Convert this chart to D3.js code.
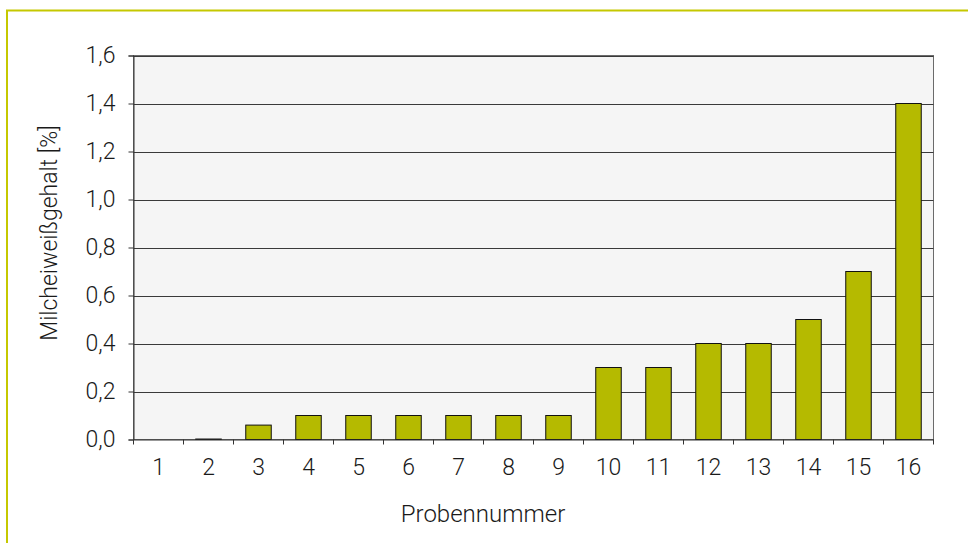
<!DOCTYPE html>
<head>
  <meta charset="utf-8" />
  <script src="https://d3js.org/d3.v7.min.js"></script>
  <style>
    body { margin: 0; background: white; }
    text { font-family: Roboto, "Liberation Sans", sans-serif; font-weight: 300; fill: #1a1a1a; }
  </style>
</head>
<body>
  <script>
    var width = 968, height = 543;

    // Daten
    var proben = ["1", "2", "3", "4", "5", "6", "7", "8", "9", "10", "11", "12", "13", "14", "15", "16"];
    var werte = [0, 0.002, 0.06, 0.1, 0.1, 0.1, 0.1, 0.1, 0.1, 0.3, 0.3, 0.4, 0.4, 0.5, 0.7, 1.4];
    var yTicks = [0, 0.2, 0.4, 0.6, 0.8, 1.0, 1.2, 1.4, 1.6];

    var pLeft = 133.5, pRight = 933.5, pTop = 55.5, pBottom = 439.5;

    var svg = d3.select("body").append("svg")
      .attr("width", width).attr("height", height);

    // Rahmen
    svg.append("path")
      .attr("d", "M7,560V10.5H980")
      .attr("fill", "none")
      .attr("stroke", "#c5c800")
      .attr("stroke-width", 2);

    var x = d3.scaleBand().domain(proben).range([pLeft, pRight]).padding(0);
    var y = d3.scaleLinear().domain([0, 1.6]).range([pBottom, pTop]);

    svg.append("rect")
      .attr("x", pLeft).attr("y", pTop)
      .attr("width", pRight - pLeft).attr("height", pBottom - pTop)
      .attr("fill", "#f5f5f5")
      .attr("stroke", "#6b6b6b");

    // Gitterlinien
    svg.append("g").selectAll("line").data(yTicks.slice(1)).join("line")
      .attr("x1", pLeft).attr("x2", pRight)
      .attr("y1", d => Math.round(y(d)) + 0.5).attr("y2", d => Math.round(y(d)) + 0.5)
      .attr("stroke", "#3a3a3a");

    // Balken
    var bw = x.bandwidth() * 0.51;
    svg.append("g").selectAll("rect").data(werte).join("rect")
      .attr("x", (d, i) => x(proben[i]) + (x.bandwidth() - bw) / 2)
      .attr("y", d => y(d))
      .attr("width", bw)
      .attr("height", d => pBottom - y(d))
      .attr("fill", "#b5ba00")
      .attr("stroke", d => d > 0 ? "#111" : "none")
      .attr("stroke-width", 1);

    // y-Achse
    var yAxis = d3.axisLeft(y).tickValues(yTicks).tickSize(5).tickPadding(13)
      .tickFormat(d => d3.format(".1f")(d).replace(".", ","));
    var gy = svg.append("g").attr("transform", "translate(" + pLeft + ",0)").call(yAxis);
    gy.select(".domain").attr("stroke", "#333");
    gy.selectAll(".tick line").attr("stroke", "#333");
    gy.selectAll("text").attr("font-size", 23).style("font-family", "Roboto, sans-serif").attr("fill", "#1a1a1a");

    // x-Achse
    var xAxis = d3.axisBottom(x).tickSize(0).tickPadding(19);
    var gx = svg.append("g").attr("transform", "translate(0," + pBottom + ")").call(xAxis);
    gx.select(".domain").attr("stroke", "#333");
    gx.selectAll("text").attr("font-size", 23).style("font-family", "Roboto, sans-serif").attr("fill", "#1a1a1a");
    gx.selectAll(".sep").data(d3.range(proben.length + 1)).join("line")
      .attr("class", "sep")
      .attr("x1", i => pLeft + i * x.step()).attr("x2", i => pLeft + i * x.step())
      .attr("y1", 0).attr("y2", 5)
      .attr("stroke", "#333");

    // Achsentitel
    svg.append("text")
      .attr("x", 483).attr("y", 522)
      .attr("text-anchor", "middle")
      .attr("font-size", 24)
      .text("Probennummer");

    svg.append("text")
      .attr("transform", "translate(57,233) rotate(-90)")
      .attr("text-anchor", "middle")
      .attr("font-size", 23)
      .text("Milcheiweißgehalt [%]");
  </script>
</body>
